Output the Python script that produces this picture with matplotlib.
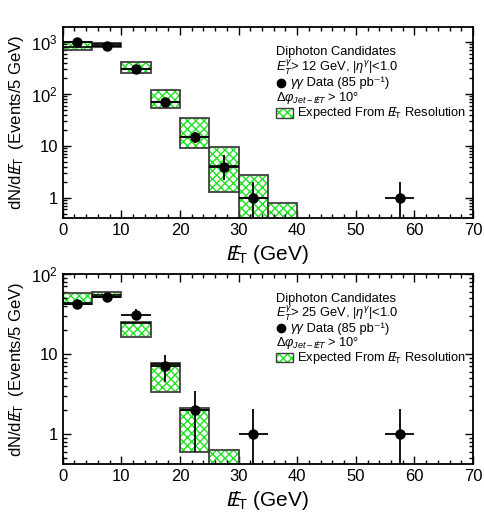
import numpy as np
import matplotlib
matplotlib.use("Agg")
import matplotlib.pyplot as plt
from matplotlib.patches import Rectangle
from matplotlib.ticker import FixedLocator, FixedFormatter, MultipleLocator, LogLocator, NullFormatter

plt.rcParams['font.family'] = ['Liberation Sans', 'DejaVu Sans']
plt.rcParams['mathtext.fontset'] = 'custom'
plt.rcParams['mathtext.rm'] = 'Liberation Sans'
plt.rcParams['mathtext.it'] = 'Liberation Sans:italic'
plt.rcParams['mathtext.bf'] = 'Liberation Sans:bold'
plt.rcParams['hatch.linewidth'] = 1.0

# bin edges of the expected histograms (GeV)
top_bin_lo = [0, 5, 10, 15, 20, 25, 30, 35]
top_exp_lo = [700, 815, 257, 53, 9, 1.3, 0.1, 0.1]
top_exp_hi = [987, 945, 408, 119, 34, 9.5, 2.7, 0.78]
top_exp_mid = [815, 900, 298, 70, 15, 4.1, 1.0, 0.2]

top_x = [2.5, 7.5, 12.5, 17.5, 22.5, 27.5, 32.5, 57.5]
top_y = [990, 850, 300, 70, 15, 4, 1, 1]
top_y_lo = [960, 820, 283, 62, 11.2, 2.2, 0.01, 0.01]
top_y_hi = [1020, 880, 317, 78, 18.8, 6.7, 2.0, 2.0]

bot_bin_lo = [0, 5, 10, 15, 20, 25]
bot_exp_lo = [42, 51, 16.4, 3.3, 0.6, 0.1]
bot_exp_hi = [58, 59, 25, 7.6, 2.1, 0.63]
bot_exp_mid = [43, 55, 24.5, 7.4, 2.0, 0.2]

bot_x = [2.5, 7.5, 12.5, 17.5, 22.5, 32.5, 57.5]
bot_y = [42, 51, 31, 7, 2, 1, 1]
bot_y_lo = [36, 45, 26.5, 4.4, 0.6, 0.01, 0.01]
bot_y_hi = [48, 58, 36, 9.7, 3.4, 2.05, 2.05]

met = r'$E\!\!\!/_{\rm T}$'
green = '#22e022'


def draw_panel(ax, bin_lo, exp_lo, exp_hi, exp_mid, x, y, y_lo, y_hi, ylim, yticks, ylabels, etcut, textpos):
    bin_lo = np.array(bin_lo)
    lo = np.array(exp_lo)
    hi = np.array(exp_hi)
    ax.bar(bin_lo, hi - lo, bottom=lo, width=5, align='edge', color='white',
           edgecolor=green, hatch='xxxx', linewidth=0, zorder=1)
    ax.bar(bin_lo, hi - lo, bottom=lo, width=5, align='edge', fill=False,
           edgecolor='0.25', linewidth=1.3, zorder=2)
    ax.hlines(exp_mid, bin_lo, bin_lo + 5, color='k', lw=1.2, zorder=2)

    y = np.array(y)
    yerr = [y - np.array(y_lo), np.array(y_hi) - y]
    ax.errorbar(x, y, xerr=2.5, yerr=yerr, fmt='o', color='k', ms=6.5,
                elinewidth=1.3, capsize=0, zorder=3)

    ax.set_yscale('log')
    ax.set_xlim(0, 70)
    ax.set_ylim(*ylim)
    ax.xaxis.set_major_locator(MultipleLocator(10))
    ax.xaxis.set_minor_locator(MultipleLocator(2))
    ax.yaxis.set_major_locator(FixedLocator(yticks))
    ax.yaxis.set_major_formatter(FixedFormatter(ylabels))
    ax.yaxis.set_minor_locator(LogLocator(base=10, subs=np.arange(2, 10)))
    ax.yaxis.set_minor_formatter(NullFormatter())
    ax.tick_params(which='both', direction='in', top=True, right=True, width=1.0)
    ax.tick_params(which='major', length=6, labelsize=12)
    ax.tick_params(which='minor', length=3)
    for s in ax.spines.values():
        s.set_linewidth(1.3)

    ax.set_xlabel(met + ' (GeV)', fontsize=15, labelpad=4)
    ax.set_ylabel('dN/d' + met + '  (Events/5 GeV)', fontsize=12, labelpad=4)

    tx, ty, dy = textpos
    fs = 9.3
    ax.text(tx, ty, 'Diphoton Candidates', transform=ax.transAxes, fontsize=fs, va='center')
    ax.text(tx, ty - dy, r'$E_T^\gamma$> ' + etcut + r' GeV, $|\eta^\gamma|$<1.0',
            transform=ax.transAxes, fontsize=fs, va='center')
    ax.plot([tx + 0.012], [ty - 2 * dy], 'o', color='k', ms=6, transform=ax.transAxes, clip_on=False)
    gg = ax.text(tx + 0.035, ty - 2 * dy, 'γγ', style='italic',
                 transform=ax.transAxes, fontsize=fs, va='center')
    ax.annotate(' Data (85 pb⁻¹)', xy=(1, 0.5), xycoords=gg, fontsize=fs,
                ha='left', va='center')
    ax.text(tx, ty - 3 * dy, r'$\Delta\varphi_{Jet-E\!\!\!/T}$ > 10°',
            transform=ax.transAxes, fontsize=fs, va='center')
    rect_y = ty - 4 * dy - 0.025
    ax.add_patch(Rectangle((tx, rect_y), 0.04, 0.05, transform=ax.transAxes,
                           facecolor='white', edgecolor=green, hatch='xxxx', lw=0))
    ax.add_patch(Rectangle((tx, rect_y), 0.04, 0.05, transform=ax.transAxes,
                           fill=False, edgecolor='0.25', lw=1.0))
    ax.text(tx + 0.05, ty - 4 * dy, 'Expected From ' + met + ' Resolution',
            transform=ax.transAxes, fontsize=fs, va='center')


fig = plt.figure(figsize=(4.84, 5.21), dpi=100)
ax1 = fig.add_axes([0.1295, 0.5816, 0.848, 0.3666])
ax2 = fig.add_axes([0.1295, 0.1094, 0.848, 0.3647])

draw_panel(ax1, top_bin_lo, top_exp_lo, top_exp_hi, top_exp_mid,
           top_x, top_y, top_y_lo, top_y_hi, (0.41, 1950),
           [1, 10, 100, 1000], ['1', '10', r'$10^2$', r'$10^3$'], '12',
           (0.52, 0.869, 0.08))
draw_panel(ax2, bot_bin_lo, bot_exp_lo, bot_exp_hi, bot_exp_mid,
           bot_x, bot_y, bot_y_lo, bot_y_hi, (0.42, 100),
           [1, 10, 100], ['1', '10', r'$10^2$'], '25',
           (0.52, 0.868, 0.077))

fig.savefig('out.png', dpi=100)
